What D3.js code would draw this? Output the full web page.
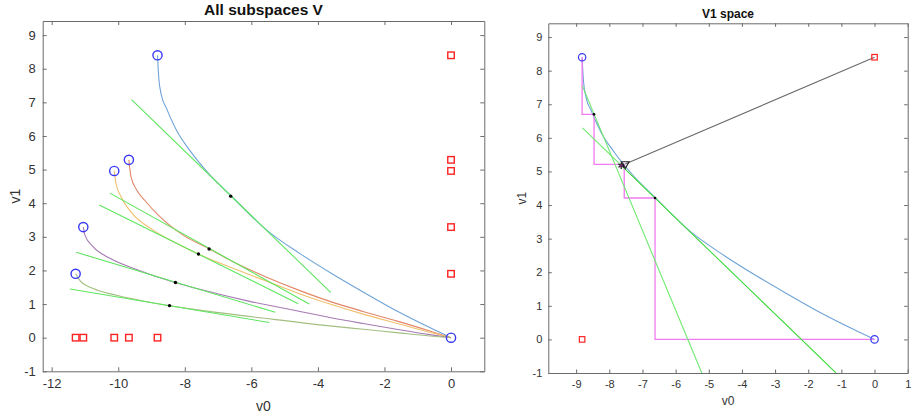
<!DOCTYPE html>
<html>
<head>
<meta charset="utf-8">
<script src="https://cdn.jsdelivr.net/npm/d3@7"></script>
<style>
  body { margin: 0; background: #fff; }
  svg { font-family: "Liberation Sans", Arial, sans-serif; }
</style>
</head>
<body>
<div id="chart"></div>
<script>
// start points of the five subspaces (v0, v1)
var startV0 = [-8.82, -9.68, -10.12, -11.05, -11.28];
var startV1 = [8.4, 5.29, 4.96, 3.29, 1.9];
var curveColors = ["#6fa3d6", "#e2876a", "#f0c06e", "#a67ab3", "#a3bf80"];

// points read along each trajectory, ending at the origin
var curveBlue = [[-8.82, 8.4], [-8.78, 7.7], [-8.7, 7.2], [-8.55, 6.82], [-8.25, 6.17], [-7.85, 5.57], [-7.3, 4.9],
  [-6.59, 4.2], [-5.54, 3.2], [-4.54, 2.5], [-3.54, 1.88], [-2.64, 1.36], [-1.64, 0.8], [-0.64, 0.3], [0, 0]];
var curveRed = [[-9.68, 5.29], [-9.62, 4.8], [-9.45, 4.4], [-9.2, 4.08], [-8.75, 3.6], [-8.05, 3.05],
  [-7.26, 2.64], [-6.55, 2.26], [-5.54, 1.8], [-4.54, 1.4], [-3.64, 1.08], [-2.64, 0.78], [-1.64, 0.5], [-0.64, 0.2], [0, 0]];
var curveYellow = [[-10.12, 4.96], [-10.07, 4.6], [-9.92, 4.2], [-9.6, 3.72], [-8.95, 3.2], [-8.25, 2.81],
  [-7.6, 2.49], [-6.95, 2.22], [-5.54, 1.68], [-4.54, 1.3], [-3.64, 1.0], [-2.64, 0.7], [-1.64, 0.43], [-0.64, 0.16], [0, 0]];
var curvePurple = [[-11.05, 3.29], [-11.0, 3.05], [-10.75, 2.7], [-10.25, 2.36], [-9.45, 2.03], [-8.29, 1.64],
  [-7.55, 1.44], [-6.05, 1.08], [-4.54, 0.78], [-3.64, 0.6], [-2.64, 0.42], [-1.64, 0.25], [-0.64, 0.09], [0, 0]];
var curveGreen = [[-11.28, 1.9], [-11.15, 1.7], [-10.75, 1.46], [-10.05, 1.26], [-9.25, 1.09], [-8.46, 0.95],
  [-7.55, 0.82], [-5.54, 0.57], [-3.64, 0.35], [-2.64, 0.25], [-1.64, 0.15], [-0.64, 0.05], [0, 0]];
var curves = [curveBlue, curveRed, curveYellow, curvePurple, curveGreen];

// tangent points and the tangent segments (x0, y0, x1, y1)
var tangentDots = [[-6.62, 4.21], [-7.27, 2.64], [-7.59, 2.49], [-8.28, 1.64], [-8.46, 0.955]];
var tangentLines = [[-9.6, 7.08, -3.61, 1.34], [-10.25, 4.3, -4.26, 1.0], [-10.57, 3.95, -4.59, 1.01],
  [-11.26, 2.54, -5.28, 0.755], [-11.45, 1.45, -5.46, 0.45]];

// V1 space
var stairV0 = [-8.82, -8.82, -8.46, -8.46, -7.55, -7.55, -6.62, -6.62, 0];
var stairV1 = [8.4, 6.7, 6.7, 5.21, 5.21, 4.21, 4.21, 0, 0];
var v1Lines = [[-8.81, 7.54, -5.21, -1.0], [-8.81, 6.3, -1.16, -1.0]];
var v1LinesDark = [[-7.6, 5.14, -1.16, -1.0]];
var v1Dots = [[-8.46, 6.7], [-6.62, 4.21], [-7.58, 5.17]];
var v1Target = [0, 8.4];
var v1Best = [-7.52, 5.22];
var v1Star = [-7.64, 5.17];

var leftTicksX = [-12, -10, -8, -6, -4, -2, 0];
var rightTicksX = [-9, -8, -7, -6, -5, -4, -3, -2, -1, 0, 1];
var ticksY = [-1, 0, 1, 2, 3, 4, 5, 6, 7, 8, 9];

var svg = d3.select("#chart").append("svg").attr("width", 912).attr("height", 416);

// draws a boxed MATLAB-like axes and returns the scales + plot group
function makeAxes(o) {
  var x = d3.scaleLinear().domain(o.xDomain).range([o.left, o.right]);
  var y = d3.scaleLinear().domain(o.yDomain).range([o.bottom, o.top]);
  var g = svg.append("g");
  var fmt = function (d) { return String(d); };

  var axes = [
    [d3.axisBottom(x).tickValues(o.xTicks).tickFormat(fmt), "translate(0," + o.bottom + ")"],
    [d3.axisTop(x).tickValues(o.xTicks).tickFormat(""), "translate(0," + o.top + ")"],
    [d3.axisLeft(y).tickValues(ticksY).tickFormat(fmt), "translate(" + o.left + ",0)"],
    [d3.axisRight(y).tickValues(ticksY).tickFormat(""), "translate(" + o.right + ",0)"]
  ];
  axes.forEach(function (a, i) {
    var ax = g.append("g").attr("transform", a[1])
      .call(a[0].tickSizeInner(-o.tick).tickSizeOuter(0).tickPadding(i === 2 ? o.padY : o.padX));
    ax.select(".domain").attr("stroke", "#6b6b6b");
    ax.selectAll(".tick line").attr("stroke", "#6b6b6b");
    ax.selectAll("text").attr("fill", "#333").style("font-size", o.font + "px");
  });

  svg.append("text").attr("x", (o.left + o.right) / 2).attr("y", o.titleY)
    .attr("text-anchor", "middle").style("font-weight", "bold").style("font-size", o.titleFont + "px")
    .attr("fill", "#111").text(o.title);
  svg.append("text").attr("x", (o.left + o.right) / 2).attr("y", o.xLabelY)
    .attr("text-anchor", "middle").style("font-size", o.labelFont + "px").attr("fill", "#333").text("v0");
  svg.append("text").attr("transform", "translate(" + o.yLabelX + "," + (o.top + o.bottom) / 2 + ") rotate(-90)")
    .attr("text-anchor", "middle").style("font-size", o.labelFont + "px").attr("fill", "#333").text("v1");

  var clipId = "clip" + Math.round(o.left);
  svg.append("clipPath").attr("id", clipId).append("rect")
    .attr("x", o.left).attr("y", o.top).attr("width", o.right - o.left).attr("height", o.bottom - o.top);
  var plot = svg.append("g").attr("clip-path", "url(#" + clipId + ")");
  return { x: x, y: y, plot: plot };
}

// ---------- left: All subspaces V ----------
var L = makeAxes({
  xDomain: [-12.27, 1], yDomain: [-1, 9.42], left: 42.7, right: 484.3, top: 21, bottom: 371.3,
  xTicks: leftTicksX, tick: 4, padX: 7, padY: 7, font: 13,
  title: "All subspaces V", titleY: 15, titleFont: 15.5, xLabelY: 411, yLabelX: 20, labelFont: 14
});

var lineL = d3.line().x(function (d) { return L.x(d[0]); }).y(function (d) { return L.y(d[1]); })
  .curve(d3.curveMonotoneX);

curves.forEach(function (c, i) {
  L.plot.append("path").attr("d", lineL(c)).attr("fill", "none")
    .attr("stroke", curveColors[i]).attr("stroke-width", 1.1);
});

L.plot.selectAll(".tan").data(tangentLines).enter().append("line")
  .attr("x1", function (d) { return L.x(d[0]); }).attr("y1", function (d) { return L.y(d[1]); })
  .attr("x2", function (d) { return L.x(d[2]); }).attr("y2", function (d) { return L.y(d[3]); })
  .attr("stroke", "#5fe65f").attr("stroke-width", 1.1);

L.plot.selectAll(".dot").data(tangentDots).enter().append("circle")
  .attr("cx", function (d) { return L.x(d[0]); }).attr("cy", function (d) { return L.y(d[1]); })
  .attr("r", 1.7).attr("fill", "#000");

// red squares: start values projected on each axis
var sq = 6.5;
startV1.forEach(function (v) {
  L.plot.append("rect").attr("x", L.x(0) - sq / 2).attr("y", L.y(v) - sq / 2)
    .attr("width", sq).attr("height", sq).attr("fill", "none").attr("stroke", "#f22").attr("stroke-width", 1.4);
});
startV0.forEach(function (v) {
  L.plot.append("rect").attr("x", L.x(v) - sq / 2).attr("y", L.y(0) - sq / 2)
    .attr("width", sq).attr("height", sq).attr("fill", "none").attr("stroke", "#f22").attr("stroke-width", 1.4);
});
startV0.concat([0]).forEach(function (v, i) {
  var vy = i < startV1.length ? startV1[i] : 0;
  L.plot.append("circle").attr("cx", L.x(v)).attr("cy", L.y(vy)).attr("r", 4.6)
    .attr("fill", "none").attr("stroke", "#3838f5").attr("stroke-width", 1.4);
});

// ---------- right: V1 space ----------
var R = makeAxes({
  xDomain: [-9.84, 1], yDomain: [-1, 9.41], left: 548.3, right: 907.7, top: 23.3, bottom: 373,
  xTicks: rightTicksX, tick: 3.5, padX: 7, padY: 6, font: 11,
  title: "V1 space", titleY: 18, titleFont: 12, xLabelY: 405, yLabelX: 526, labelFont: 12
});

var lineR = d3.line().x(function (d) { return R.x(d[0]); }).y(function (d) { return R.y(d[1]); });

R.plot.append("path").attr("d", lineR.curve(d3.curveMonotoneX)(curveBlue))
  .attr("fill", "none").attr("stroke", curveColors[0]).attr("stroke-width", 1.1);
lineR.curve(d3.curveLinear);

R.plot.append("path").attr("d", lineR(stairV0.map(function (v, i) { return [v, stairV1[i]]; })))
  .attr("fill", "none").attr("stroke", "#f27af2").attr("stroke-width", 1.3);

R.plot.selectAll(".tan").data(v1Lines).enter().append("line")
  .attr("x1", function (d) { return R.x(d[0]); }).attr("y1", function (d) { return R.y(d[1]); })
  .attr("x2", function (d) { return R.x(d[2]); }).attr("y2", function (d) { return R.y(d[3]); })
  .attr("stroke", "#70e870").attr("stroke-width", 1.1);
R.plot.selectAll(".tanD").data(v1LinesDark).enter().append("line")
  .attr("x1", function (d) { return R.x(d[0]); }).attr("y1", function (d) { return R.y(d[1]); })
  .attr("x2", function (d) { return R.x(d[2]); }).attr("y2", function (d) { return R.y(d[3]); })
  .attr("stroke", "#3fd83f").attr("stroke-width", 1);

R.plot.append("path").attr("d", lineR([v1Best, v1Target]))
  .attr("stroke", "#6a6a6a").attr("stroke-width", 1.1);

R.plot.selectAll(".dot").data(v1Dots).enter().append("circle")
  .attr("cx", function (d) { return R.x(d[0]); }).attr("cy", function (d) { return R.y(d[1]); })
  .attr("r", 1.3).attr("fill", "#000");

// best point marker (down triangle) and star
R.plot.append("path")
  .attr("transform", "translate(" + R.x(v1Best[0]) + "," + R.y(v1Best[1]) + ") rotate(180)")
  .attr("d", d3.symbol(d3.symbolTriangle, 26)()).attr("fill", "none").attr("stroke", "#222").attr("stroke-width", 1.1);
R.plot.append("path")
  .attr("transform", "translate(" + R.x(v1Star[0]) + "," + R.y(v1Star[1]) + ")")
  .attr("d", d3.symbol(d3.symbolAsterisk, 28)()).attr("fill", "none").attr("stroke", "#111").attr("stroke-width", 1.2);
R.plot.append("circle").attr("cx", R.x(v1Star[0])).attr("cy", R.y(v1Star[1])).attr("r", 2).attr("fill", "#8a3a8a").attr("opacity", 0.6);

var sqR = 5.5;
[[v1Target[0], v1Target[1]], [startV0[0], 0]].forEach(function (p) {
  R.plot.append("rect").attr("x", R.x(p[0]) - sqR / 2).attr("y", R.y(p[1]) - sqR / 2)
    .attr("width", sqR).attr("height", sqR).attr("fill", "none").attr("stroke", "#f22").attr("stroke-width", 1.2);
});
[[startV0[0], startV1[0]], [0, 0]].forEach(function (p) {
  R.plot.append("circle").attr("cx", R.x(p[0])).attr("cy", R.y(p[1])).attr("r", 3.7)
    .attr("fill", "none").attr("stroke", "#3838f5").attr("stroke-width", 1.2);
});
</script>
</body>
</html>
